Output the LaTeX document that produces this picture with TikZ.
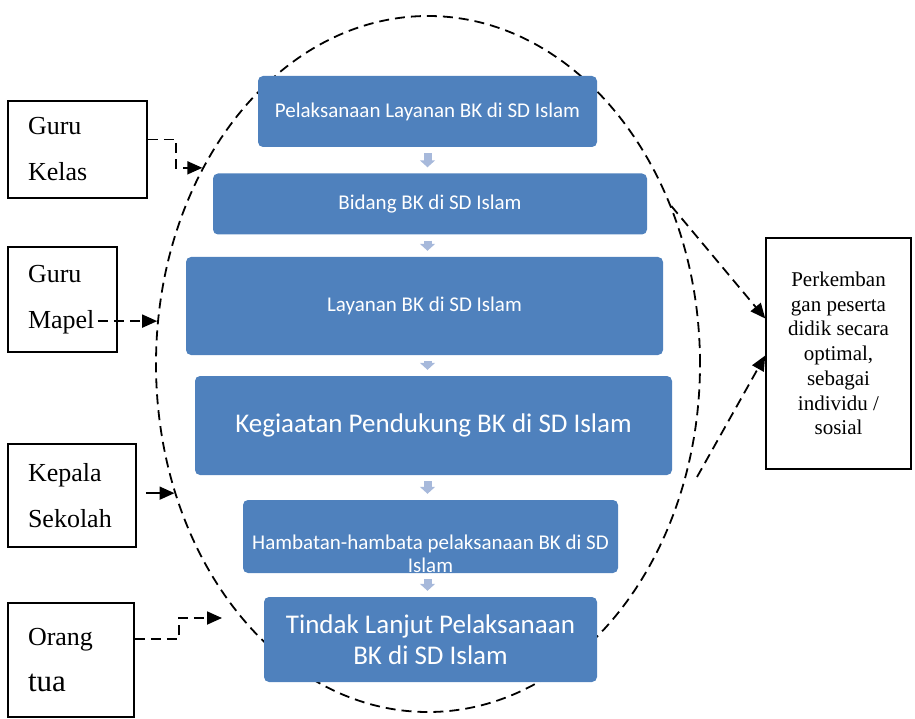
\documentclass[tikz,border=0pt]{standalone}
\usepackage{fontspec}
\setmainfont{Liberation Serif}
\newfontfamily\calfont{Carlito}
\usetikzlibrary{arrows.meta,shapes.geometric}
\definecolor{bkblue}{HTML}{4F81BD}
\definecolor{bkarrow}{HTML}{A7B9DB}
\tikzset{
  bkbox/.style={fill=bkblue, rounded corners=5pt, text=white, align=center, inner sep=0pt,
    font=\calfont\fontsize{21}{23}\selectfont},
  bigbk/.style={bkbox, font=\calfont\fontsize{27}{31}\selectfont},
  actor/.style={draw, line width=1.5pt, fill=white, align=left, inner xsep=20pt, inner ysep=0pt,
    font=\fontsize{26}{46}\selectfont},
  link/.style={line width=1.8pt, dash pattern=on 10pt off 6pt, -{Triangle[width=13pt,length=15pt]}},
  flow/.style={bkarrow, line width=8pt, -{Triangle[width=15pt,length=7pt]}, shorten <=6pt, shorten >=6pt}
}
\begin{document}
\begin{tikzpicture}[x=1pt,y=-1pt]
  \useasboundingbox (0,0) rectangle (915,719);

  % dashed oval round the BK steps
  \node[ellipse, draw, line width=1.8pt, dash pattern=on 10pt off 6pt,
        minimum width=544pt, minimum height=696pt, inner sep=0pt] (oval) at (428,364) {};

  % BK steps
  \node[bkbox, minimum width=339pt, minimum height=71pt] (b1) at (427.5,111.5) {Pelaksanaan Layanan BK di SD Islam};
  \node[bkbox, minimum width=434pt, minimum height=61pt] (b2) at (430,204) {Bidang BK di SD Islam};
  \node[bkbox, minimum width=477pt, minimum height=98pt] (b3) at (424.5,306) {Layanan BK di SD Islam};
  \node[bigbk, minimum width=477pt, minimum height=99pt] (b4) at (433.5,425.5) {Kegiaatan Pendukung BK di SD Islam};
  \node[bkbox, minimum width=375pt, minimum height=73pt] (b5) at (430.5,536.5) {};
  \node[bkbox, fill=none] (b5txt) at ([yshift=-17pt]b5.center) {Hambatan-hambata pelaksanaan BK di SD\\Islam};
  \node[bigbk, minimum width=333pt, minimum height=85pt] (b6) at (430.5,639.5) {Tindak Lanjut Pelaksanaan\\BK di SD Islam};

  \draw[flow] (b1.south) -- (b1.south |- b2.north);
  \draw[flow] (b1.south |- b2.south) -- (b1.south |- b3.north);
  \draw[flow] (b1.south |- b3.south) -- (b1.south |- b4.north);
  \draw[flow] (b1.south |- b4.south) -- (b1.south |- b5.north);
  \draw[flow] (b1.south |- b5.south) -- (b1.south |- b6.north);

  % people round the oval
  \node[actor, text width=99pt, minimum height=97pt] (gk) at (77.5,149.5) {Guru\\Kelas};
  \node[actor, text width=69pt, minimum height=105pt] (gm) at (62.5,299.5) {Guru\\Mapel};
  \node[actor, text width=88pt, minimum height=103pt] (ks) at (72,495.5) {Kepala\\Sekolah};
  \node[actor, text width=86pt, minimum height=114pt] (ot) at (71,660) {Orang\\{\fontsize{31}{46}\selectfont tua}};

  % goal
  \node[draw, line width=1.5pt, minimum width=145pt, minimum height=231pt, align=center,
        inner sep=0pt, font=\fontsize{21}{24.7}\selectfont] (goal) at (838.5,353.5)
        {Perkemban\\gan peserta\\didik secara\\optimal,\\sebagai\\individu /\\sosial};

  % connectors
  \draw[link] ([yshift=10pt]gk.east) -- ++(28,0) |- (oval.139);
  \draw[link] ([xshift=-20pt]gm.east |- oval.171) -- (oval.171);
  \draw[link, solid] ([xshift=9pt]ks.east |- oval.207) -- (oval.207);
  \coordinate (otend) at (222,618);
  \draw[link] ([yshift=21pt]ot.east) -- ++(44,0) |- (otend);

  \coordinate (lowstart) at (697,477);
  \draw[link] (oval.33) -- ([yshift=35pt]goal.west);
  \draw[link] (lowstart) -- ([yshift=-2pt]goal.west);
\end{tikzpicture}
\end{document}
